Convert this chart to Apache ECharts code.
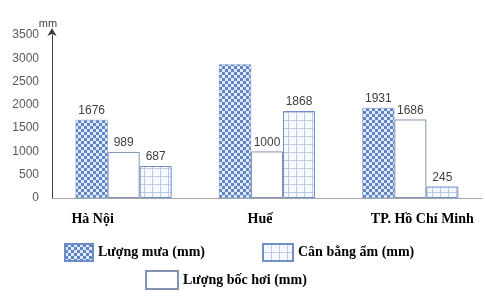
<!DOCTYPE html>
<html>
<head>
<meta charset="utf-8">
<script src="https://cdn.jsdelivr.net/npm/echarts@6/dist/echarts.min.js"></script>
<style>
html,body{margin:0;padding:0;background:#fff;}
#c{width:485px;height:300px;}
</style>
</head>
<body>
<div id="c"></div>
<script>
const categories = ['Hà Nội', 'Huế', 'TP. Hồ Chí Minh'];
const seriesNames = ['Lượng mưa (mm)', 'Lượng bốc hơi (mm)', 'Cân bằng ẩm (mm)'];
const rainfall = [1676, 2868, 1931];
const evaporation = [989, 1000, 1686];
const balance = [687, 1868, 245];
const yTicks = [0, 500, 1000, 1500, 2000, 2500, 3000, 3500];
const hiddenLabels = { rain: [1] };

function checker() {
  const c = document.createElement('canvas');
  c.width = 6; c.height = 6;
  const g = c.getContext('2d');
  g.fillStyle = '#e2eaf6'; g.fillRect(0, 0, 6, 6);
  g.fillStyle = '#5f85c8';
  g.fillRect(0, 0, 3, 3); g.fillRect(3, 3, 3, 3);
  return c;
}
function gridPat() {
  const c = document.createElement('canvas');
  c.width = 8; c.height = 8;
  const g = c.getContext('2d');
  g.fillStyle = '#f5f8fd'; g.fillRect(0, 0, 8, 8);
  g.fillStyle = '#bccbe4';
  g.fillRect(0, 0, 8, 1); g.fillRect(0, 0, 1, 8);
  return c;
}

const chart = echarts.init(document.getElementById('c'), null, { renderer: 'canvas' });
const labelStyle = { show: true, position: 'top', distance: 3, color: '#404040', fontSize: 12, fontFamily: 'Liberation Sans' };
const serifBold = { fontFamily: 'Liberation Serif', fontWeight: 'bold', fontSize: 14, color: '#000' };

const option = {
  animation: false,
  grid: { left: 52, right: 3, top: 35, bottom: 102 },
  legend: [
    { data: [seriesNames[0]], icon: 'rect', padding: 0, left: 64, top: 243, itemWidth: 28, itemHeight: 17, itemGap: 4, textStyle: serifBold },
    { data: [seriesNames[2]], icon: 'rect', padding: 0, left: 262, top: 243, itemWidth: 30, itemHeight: 17, textStyle: serifBold },
    { data: [seriesNames[1]], icon: 'rect', padding: 0, left: 145, top: 270, itemWidth: 32, itemHeight: 18, textStyle: serifBold }
  ],
  xAxis: {
    type: 'category',
    data: [
      { value: categories[0], textStyle: { padding: [0, 62, 0, 0] } },
      { value: categories[1], textStyle: { padding: [0, 14, 0, 0] } },
      { value: categories[2], textStyle: { padding: [0, 0, 0, 24] } }
    ],
    axisLine: { lineStyle: { color: '#a6a6a6', width: 1 } },
    axisTick: { show: false },
    axisLabel: Object.assign({ margin: 14 }, serifBold)
  },
  yAxis: {
    type: 'value',
    min: yTicks[0], max: yTicks[yTicks.length - 1], interval: 500,
    name: 'mm',
    nameGap: 4,
    nameTextStyle: { color: '#404040', fontSize: 11, fontFamily: 'Liberation Sans', padding: [0, 0, 0, -8] },
    axisLine: { show: true, symbol: ['none', 'arrow'], symbolSize: [7, 8], symbolOffset: [0, 7], lineStyle: { color: '#404040', width: 1 } },
    axisTick: { show: false },
    splitLine: { show: false },
    axisLabel: { color: '#595959', fontSize: 12, fontFamily: 'Liberation Sans', margin: 13, formatter: v => String(v) }
  },
  series: [
    {
      name: seriesNames[0], type: 'bar', barWidth: 32, barGap: '0%', barCategoryGap: '32%',
      data: rainfall.map((v, i) => hiddenLabels.rain.includes(i) ? { value: v, label: { show: false } } : v),
      itemStyle: { color: { image: checker(), repeat: 'repeat' }, borderColor: '#6a8cc8', borderWidth: 0.5 },
      label: labelStyle
    },
    {
      name: seriesNames[1], type: 'bar', barWidth: 32, barGap: '0%',
      data: evaporation,
      itemStyle: { color: '#ffffff', borderColor: '#8294b4', borderWidth: 1 },
      label: labelStyle
    },
    {
      name: seriesNames[2], type: 'bar', barWidth: 32, barGap: '0%',
      data: balance,
      itemStyle: { color: { image: gridPat(), repeat: 'repeat' }, borderColor: '#6f8fc6', borderWidth: 1 },
      label: labelStyle
    }
  ]
};
chart.setOption(option);
</script>
</body>
</html>
